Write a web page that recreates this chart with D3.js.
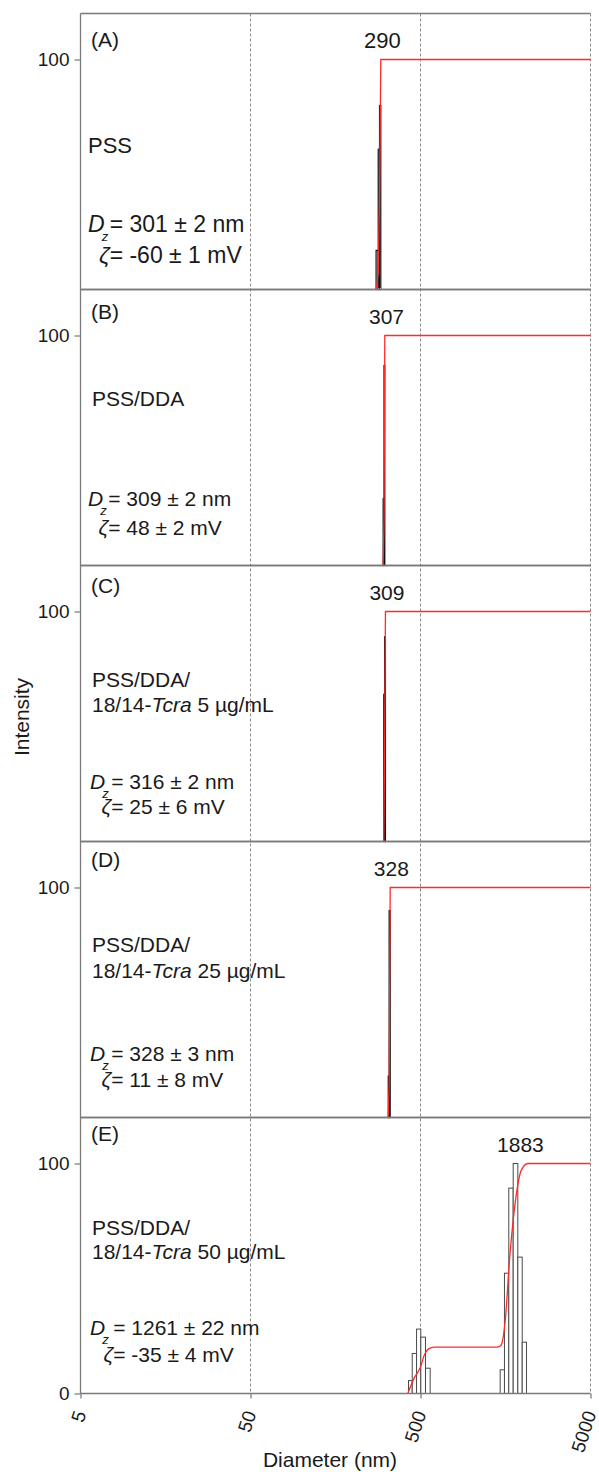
<!DOCTYPE html>
<html><head><meta charset="utf-8">
<script src="https://cdn.jsdelivr.net/npm/d3@7"></script>
<style>
html,body{margin:0;padding:0;background:#fff;}
svg text{font-family:"Liberation Sans",Arial,Helvetica,sans-serif;fill:#1a1a1a;}
</style></head>
<body>
<svg id="chart" width="599" height="1472"></svg>
<script>
// ---------------- data ----------------
const panelLabels = ["(A)", "(B)", "(C)", "(D)", "(E)"];
const sampleName = ["PSS", "PSS/DDA", "PSS/DDA/", "PSS/DDA/", "PSS/DDA/"];
const tcraConc = [null, null, "5", "25", "50"];
const dzValues = ["301 ± 2 nm", "309 ± 2 nm", "316 ± 2 nm", "328 ± 3 nm", "1261 ± 22 nm"];
const zetaValues = ["-60 ± 1 mV", "48 ± 2 mV", "25 ± 6 mV", "11 ± 8 mV", "-35 ± 4 mV"];
const peakLabels = [290, 307, 309, 328, 1883];

// histogram bins: [lower nm, upper nm, intensity]
const binsA = [[274, 282, 17], [282, 287, 61], [287, 292, 80]];
const binsB = [[301.5, 305, 29], [305, 308.3, 87]];
const binsC = [[304, 307.5, 64], [307.5, 311, 89]];
const binsD = [[323, 327, 18], [327, 331.7, 90]];
const binsE = [[425, 447, 5.6], [447, 474, 17.4], [474, 502, 28], [502, 535, 24.5], [535, 570, 11],
               [1471, 1559, 10.3], [1559, 1653, 52.3], [1653, 1755, 89.3], [1755, 1868, 100],
               [1868, 1983, 59.3], [1983, 2101, 22.3]];

// cumulative curves: [nm, cumulative intensity]
const cumA = [[274, 0], [282, 7], [287, 40], [292, 100], [5000, 100]];
const cumB = [[301.5, 0], [305, 20], [308.3, 100], [5000, 100]];
const cumC = [[304, 0], [307.5, 40], [311, 100], [5000, 100]];
const cumD = [[323, 0], [327, 15], [331.7, 100], [5000, 100]];
const cumE = [[421, 0], [461, 7], [500, 11.5], [528, 17], [560, 19.5], [600, 20.2], [1420, 20.2],
              [1488, 21], [1581, 33], [1669, 58], [1811, 84], [1957, 97], [2139, 100], [5000, 100]];

const xTicks = [5, 50, 500, 5000];
const yTicks = [[100], [100], [100], [100], [0, 100]];
const xTitle = "Diameter (nm)";
const yTitle = "Intensity";

const binsAll = [binsA, binsB, binsC, binsD, binsE];
const cumAll = [cumA, cumB, cumC, cumD, cumE];

// ---------------- layout ----------------
const L = 80.5, R = 590.5, TOP = 13.5, PH = 276, NP = 5;
const labelDy = [33, 29, 27, 25, 23];
const nameX = [88, 92, 92, 92, 92];
const nameDy = [[139.5], [116.5], [121.5, 146.5], [110, 136], [117.5, 141]];
const dzX = [88, 88, 90, 90, 90];
const dzDy = [218.5, 216.5, 223, 219, 217.5];
const zetaDy = [249.5, 245, 248, 245.5, 244];
const eqGap = [5, 5, 6, 6, 8];
const panelFS = [22, 21, 21, 21, 21];
const dzFS = [23, 21, 21, 21, 21];
const FS = 21;
const RED = "#ff2a2a";

const svg = d3.select("#chart");
const x = d3.scaleLog().domain([5, 5000]).range([L, R]);
const BOTTOM = TOP + PH * NP;

// gridlines (dashed) through all panels
svg.append("g").selectAll("line").data(xTicks.slice(1)).join("line")
  .attr("x1", d => x(d)).attr("x2", d => x(d))
  .attr("y1", TOP).attr("y2", BOTTOM)
  .attr("stroke", "#8a8a8a").attr("stroke-width", 1).attr("stroke-dasharray", "3,2");

for (let i = 0; i < NP; i++) {
  const t = TOP + i * PH, b = t + PH;
  const y = d3.scaleLinear().domain([0, 120]).range([b, t]);
  const g = svg.append("g");
  const fs = panelFS[i], fz = dzFS[i];

  // bars
  g.selectAll("rect").data(binsAll[i]).join("rect")
    .attr("x", d => x(d[0])).attr("width", d => Math.max(0.01, x(d[1]) - x(d[0])))
    .attr("y", d => y(d[2])).attr("height", d => y(0) - y(d[2]))
    .attr("fill", "#fff").attr("stroke", i === 4 ? "#4a4a4a" : "#111").attr("stroke-width", i === 4 ? 1 : 1.2);

  // cumulative curve
  const line = d3.line().x(d => x(d[0])).y(d => y(d[1]))
    .curve(i === 4 ? d3.curveMonotoneX : d3.curveLinear);
  g.append("path").attr("d", line(cumAll[i]))
    .attr("fill", "none").attr("stroke", RED).attr("stroke-width", 1.3);

  // peak label
  g.append("text").attr("x", x(peakLabels[i]) + 2).attr("y", y(100) - 12)
    .attr("text-anchor", "middle").attr("font-size", fs).text(peakLabels[i]);

  // panel label
  g.append("text").attr("x", 91).attr("y", t + labelDy[i]).attr("font-size", FS).text(panelLabels[i]);

  // sample name
  g.append("text").attr("x", nameX[i]).attr("y", t + nameDy[i][0]).attr("font-size", fs).text(sampleName[i]);
  if (tcraConc[i]) {
    const tx = g.append("text").attr("x", nameX[i]).attr("y", t + nameDy[i][1]).attr("font-size", fs);
    tx.append("tspan").text("18/14-");
    tx.append("tspan").attr("font-style", "italic").text("Tcra");
    tx.append("tspan").text(" " + tcraConc[i] + " µg/mL");
  }

  // Dz line
  const dzY = t + dzDy[i], x0 = dzX[i];
  const dEl = g.append("text").attr("x", x0).attr("y", dzY).attr("font-size", fz)
    .attr("font-style", "italic").text("D");
  const wD = dEl.node().getComputedTextLength();
  g.append("text").attr("x", x0 + wD - 3).attr("y", dzY + 9).attr("font-size", 13)
    .attr("font-style", "italic").text("z");
  const xEq = x0 + wD + eqGap[i];
  g.append("text").attr("x", xEq).attr("y", dzY).attr("font-size", fz).text("= " + dzValues[i]);

  // zeta line
  const zY = t + zetaDy[i];
  g.append("text").attr("x", xEq).attr("y", zY).attr("font-size", fz)
    .attr("text-anchor", "end").attr("font-style", "italic").text("ζ");
  g.append("text").attr("x", xEq).attr("y", zY).attr("font-size", fz).text("= " + zetaValues[i]);

  // y axis ticks
  const ax = d3.axisLeft(y).tickValues(yTicks[i]).tickSize(6).tickPadding(5).tickFormat(d3.format("d"));
  const ga = svg.append("g").attr("transform", `translate(${L},0)`).call(ax);
  ga.select(".domain").remove();
  ga.selectAll(".tick line").attr("stroke", "#777").attr("stroke-width", 1.2);
  ga.selectAll(".tick text").attr("font-size", 19).attr("fill", "#1a1a1a")
    .attr("font-family", '"Liberation Sans",Arial,sans-serif');

  // borders (top, bottom, left)
  svg.append("line").attr("x1", L).attr("x2", R).attr("y1", t).attr("y2", t)
    .attr("stroke", "#7a7a7a").attr("stroke-width", 1.3);
  svg.append("line").attr("x1", L).attr("x2", R).attr("y1", b).attr("y2", b)
    .attr("stroke", "#7a7a7a").attr("stroke-width", 1.3);
  svg.append("line").attr("x1", L).attr("x2", L).attr("y1", t).attr("y2", b)
    .attr("stroke", "#7a7a7a").attr("stroke-width", 1.3);
}

// x axis ticks and labels
const gx = svg.append("g").attr("transform", `translate(0,${BOTTOM})`)
  .call(d3.axisBottom(x).tickValues(xTicks).tickSize(5).tickFormat(""));
gx.select(".domain").remove();
gx.selectAll(".tick line").attr("stroke", "#777").attr("stroke-width", 1.2);
svg.append("g").selectAll("text").data(xTicks).join("text")
  .attr("transform", d => `translate(${x(d) + 6},${BOTTOM + 20}) rotate(-72)`)
  .attr("text-anchor", "end").attr("font-size", 19).text(d => d);

// axis titles
svg.append("text").attr("x", 330).attr("y", 1467).attr("text-anchor", "middle")
  .attr("font-size", FS).text(xTitle);
svg.append("text").attr("transform", `translate(29,717) rotate(-90)`).attr("text-anchor", "middle")
  .attr("font-size", FS).text(yTitle);
</script>
</body></html>
